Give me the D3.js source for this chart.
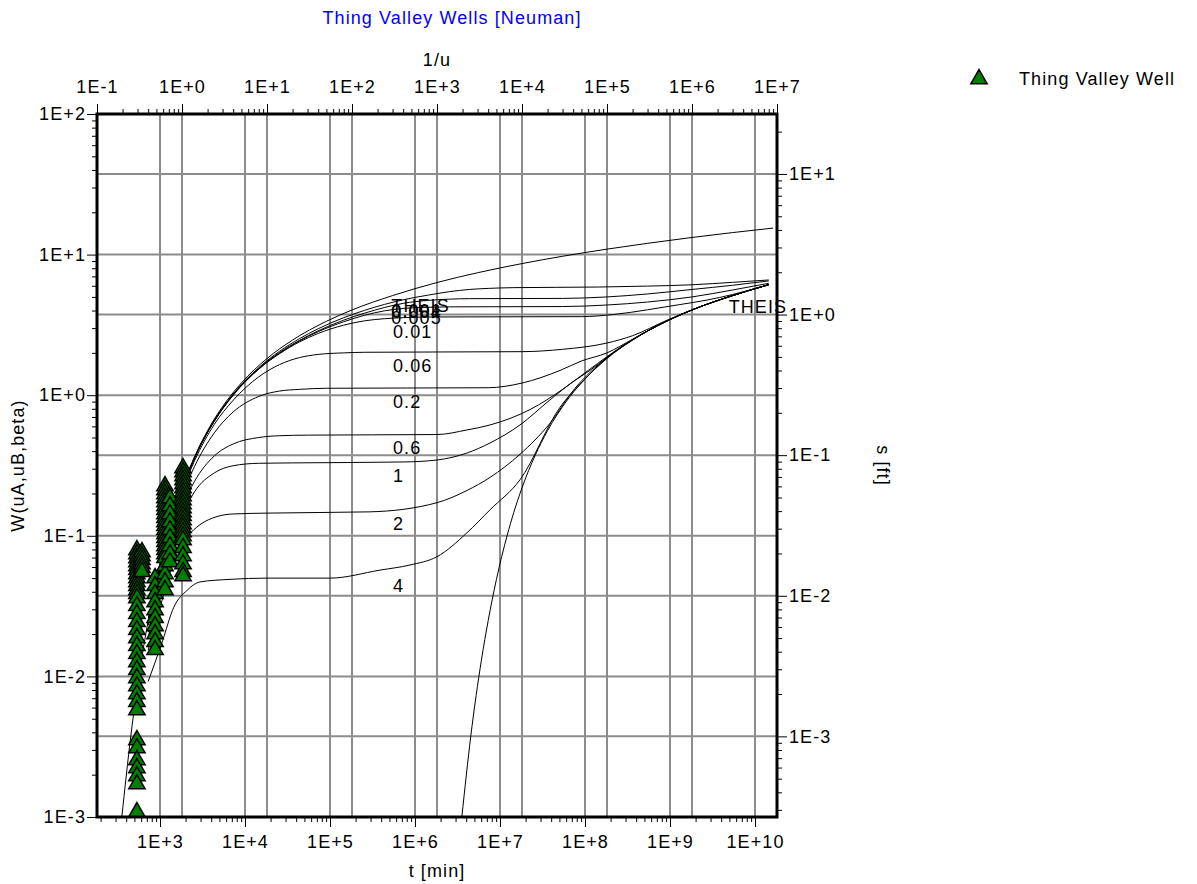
<!DOCTYPE html>
<html><head><meta charset="utf-8">
<script src="https://cdn.jsdelivr.net/npm/d3@7"></script>
<style>
body{margin:0;background:#fff}
svg{display:block}
text{font-family:"Liberation Sans",Arial,Helvetica,sans-serif;font-size:18px;letter-spacing:1.1px}
</style>
</head><body>
<svg id="chart" width="1197" height="884"></svg>
<script>
// ---------------- data ----------------
const chartTitle = "Thing Valley Wells [Neuman]";
const topAxisTitle = "1/u";
const bottomAxisTitle = "t [min]";
const leftAxisTitle = "W(uA,uB,beta)";
const rightAxisTitle = "s [ft]";
const legendLabel = "Thing Valley Well";

const topTickValues = [1e-1,1e0,1e1,1e2,1e3,1e4,1e5,1e6,1e7];
const topTickLabels = ["1E-1","1E+0","1E+1","1E+2","1E+3","1E+4","1E+5","1E+6","1E+7"];
const bottomTickValues = [1e3,1e4,1e5,1e6,1e7,1e8,1e9,1e10];
const bottomTickLabels = ["1E+3","1E+4","1E+5","1E+6","1E+7","1E+8","1E+9","1E+10"];
const leftTickValues = [1e-3,1e-2,1e-1,1e0,1e1,1e2];
const leftTickLabels = ["1E-3","1E-2","1E-1","1E+0","1E+1","1E+2"];
const rightTickValues = [1e-3,1e-2,1e-1,1e0,1e1];
const rightTickLabels = ["1E-3","1E-2","1E-1","1E+0","1E+1"];

// axis extents (1/u, t, W, s)
const invUDomain = [1e-1, 1e7];
const timeDomain = [181.5, 1.815e10];
const wDomain = [1e-3, 1e2];
const sDomain = [2.67e-4, 26.7];

// type curves: [1/u, W(uA,uB,beta)]
const curveTheisA = [[0.196,0.001],[0.25,0.00378],[0.333,0.01305],[0.4,0.0249],[0.5,0.0489],[0.667,0.1],[0.8,0.1464],[1,0.2194],[1.43,0.3738],[2,0.5598],[3.33,0.9057],[5,1.2227],[10,1.8229],[20,2.4679],[50,3.3547],[100,4.0379],[300,5.11],[1000,6.3315],[3000,7.43],[1e4,8.6332],[3e4,9.73],[1e5,10.9357],[3e5,12.03],[1e6,13.2383],[3e6,14.34],[9e6,15.44]];
const curveTheisB = [[1960,0.001],[2500,0.00378],[3330,0.01305],[4000,0.0249],[5000,0.0489],[6670,0.1],[8000,0.1464],[1e4,0.2194],[1.43e4,0.3738],[2e4,0.5598],[3.33e4,0.9057],[5e4,1.2227],[1e5,1.8229],[2e5,2.4679],[5e5,3.3547],[1e6,4.0379],[3e6,5.11],[8e6,6.107]];
const curveBeta0001 = [[0.4,0.0248],[0.8,0.145],[1.4,0.358],[2.4,0.662],[4,1.02],[8,1.57],[14,2.05],[24,2.52],[40,2.97],[80,3.56],[140,4.01],[240,4.42],[400,4.77],[800,5.16],[1400,5.45],[2400,5.65],[4000,5.75],[8000,5.82],[8e4,5.88],[3e5,5.97],[1e6,6.1],[3e6,6.35],[8e6,6.6]];
const curveBeta0004 = [[0.4,0.0248],[0.8,0.144],[1.4,0.357],[2.4,0.658],[4,1.01],[8,1.55],[14,2.01],[24,2.45],[40,2.87],[80,3.42],[140,3.83],[240,4.2],[400,4.5],[800,4.73],[1400,4.82],[2400,4.86],[3e4,4.88],[1e5,5.0],[3e5,5.25],[1e6,5.65],[3e6,6.05],[8e6,6.5]];
const curveBeta0005 = [[0.4,0.0248],[0.8,0.144],[1.4,0.356],[2.4,0.655],[4,1.005],[8,1.54],[14,1.99],[24,2.43],[40,2.83],[80,3.33],[140,3.7],[240,3.98],[400,4.14],[800,4.22],[1400,4.25],[3e4,4.27],[1e5,4.38],[3e5,4.6],[1e6,5.0],[3e6,5.6],[8e6,6.25]];
const curveBeta001 = [[0.4,0.0247],[0.8,0.143],[1.4,0.355],[2.4,0.652],[4,0.999],[8,1.53],[14,1.97],[24,2.39],[40,2.75],[80,3.15],[140,3.38],[240,3.5],[400,3.56],[800,3.6],[5e4,3.62],[1.2e5,3.75],[3e5,4.05],[7e5,4.4],[1.5e6,4.75],[3e6,5.2],[8e6,6.12]];
const curveBeta006 = [[0.4,0.0243],[0.8,0.139],[1.4,0.34],[2.4,0.62],[4,0.92],[8,1.35],[14,1.65],[24,1.85],[40,1.95],[80,2.0],[140,2.02],[1e4,2.04],[3e4,2.12],[1e5,2.35],[2e5,2.65],[5e5,3.4],[1e6,4.05],[3e6,5.11],[8e6,6.11]];
const curveBeta02 = [[0.4,0.023],[0.8,0.131],[1.4,0.31],[2.4,0.54],[4,0.76],[8,0.98],[14,1.07],[24,1.1],[50,1.12],[4000,1.13],[1e4,1.22],[2.8e4,1.5],[5e4,1.75],[1e5,2.0],[2e5,2.5],[5e5,3.37],[1e6,4.04],[3e6,5.11],[8e6,6.11]];
const curveBeta06 = [[0.4,0.0206],[0.8,0.111],[1.4,0.243],[2.4,0.37],[4,0.45],[8,0.5],[14,0.515],[30,0.52],[1000,0.525],[2250,0.566],[4200,0.614],[1.24e4,0.79],[3e4,1.1],[6e4,1.5],[1e5,1.88],[2e5,2.49],[5e5,3.36],[1e6,4.04],[3e6,5.11],[8e6,6.11]];
const curveBeta1 = [[0.4,0.0188],[0.8,0.097],[1.4,0.205],[2.4,0.28],[4,0.315],[8,0.328],[20,0.33],[400,0.335],[1000,0.346],[2250,0.388],[4200,0.457],[9460,0.614],[2.13e4,0.925],[4e4,1.25],[6.3e4,1.5],[1e5,1.86],[2e5,2.48],[5e5,3.36],[1e6,4.04],[3e6,5.11],[8e6,6.11]];
const curveBeta2 = [[0.4,0.0154],[0.6,0.037],[0.8,0.066],[1.15,0.098],[1.63,0.12],[2.58,0.137],[4,0.143],[10,0.145],[160,0.148],[1000,0.172],[2250,0.21],[4200,0.26],[9460,0.38],[2.13e4,0.63],[4.2e4,1.12],[6.3e4,1.45],[1e5,1.85],[2e5,2.48],[5e5,3.36],[1e6,4.04],[3e6,5.11],[8e6,6.11]];
const curveBeta4 = [[0.4,0.0092],[0.58,0.0173],[0.8,0.031],[1.15,0.041],[1.63,0.047],[3.67,0.049],[10,0.05],[55,0.05],[213,0.057],[481,0.062],[1000,0.071],[2250,0.105],[4200,0.153],[9460,0.25],[2.8e4,0.82],[5.5e4,1.3],[1e5,1.84],[2e5,2.47],[5e5,3.355],[1e6,4.04],[3e6,5.11],[8e6,6.11]];

const curveNames = ["THEIS","0.001","0.004","0.005","0.01","0.06","0.2","0.6","1","2","4","THEIS"];
const curveSeries = [curveTheisA,curveBeta0001,curveBeta0004,curveBeta0005,curveBeta001,curveBeta006,curveBeta02,curveBeta06,curveBeta1,curveBeta2,curveBeta4,curveTheisB];
// label anchors in data units [1/u, W]
const curveLabelAnchors = [[290,4.3],[290,3.98],[290,3.93],[290,3.55],[303,2.81],[303,1.61],[303,0.895],[303,0.421],[303,0.266],[303,0.121],[303,0.044],[2.7e6,4.24]];

// observations: time t [min] and drawdown s [ft]
const obsColumns = [
  {t:535, s:[0.02118,0.01984,0.01858,0.0174,0.0163,0.01527,0.0143,0.01339,0.01254,0.01175,0.011,0.01031,0.00965,0.00847,0.00743,0.00652,0.00572,0.00501,0.0044,0.00386,0.00338,0.00297,0.0026,0.00228,0.002,0.00176,0.00154,0.000942,0.000826,0.000679,0.000596,0.000523,0.000458,0.00029]},
  {t:614, s:[0.0205,0.0192,0.018,0.0168,0.0158,0.0148]},
  {t:875, s:[0.01339,0.01175,0.01031,0.00904,0.00793,0.00696,0.0061,0.00535,0.0047,0.00412]},
  {t:1145, s:[0.0604,0.0566,0.053,0.0496,0.0465,0.0435,0.0408,0.0382,0.0358,0.0335,0.0314,0.0294,0.0275,0.0258,0.0242,0.0226,0.0212,0.0198,0.0186,0.0163,0.0143,0.01254,0.011]},
  {t:1311, s:[0.0496,0.0435,0.0382,0.0335,0.0294,0.0258,0.0226,0.0198,0.0174]},
  {t:1866, s:[0.0811,0.076,0.0711,0.0666,0.0624,0.0584,0.0547,0.0513,0.048,0.045,0.0421,0.0394,0.037,0.0346,0.0324,0.0304,0.0284,0.0266,0.0249,0.0219,0.0192,0.0168,0.0148,0.0138]}
];

// ---------------- drawing ----------------
const L = 97, R = 777, T = 114, B = 817;
const svg = d3.select("#chart");
svg.append("rect").attr("width",1197).attr("height",884).attr("fill","#fff");

const xTop = d3.scaleLog().domain(invUDomain).range([L,R]);
const xBot = d3.scaleLog().domain(timeDomain).range([L,R]);
const yL = d3.scaleLog().domain(wDomain).range([B,T]);
const yR = d3.scaleLog().domain(sDomain).range([B,T]);

const isDecade = v => Math.abs(Math.log10(v) - Math.round(Math.log10(v))) < 1e-9;

// grid
const grid = svg.append("g").attr("stroke","#8c8c8c").attr("stroke-width",2);
topTickValues.filter(v=>xTop(v)>L+1 && xTop(v)<R-1).forEach(v=>grid.append("line").attr("x1",xTop(v)).attr("x2",xTop(v)).attr("y1",T).attr("y2",B));
bottomTickValues.filter(v=>xBot(v)>L+1 && xBot(v)<R-1).forEach(v=>grid.append("line").attr("x1",xBot(v)).attr("x2",xBot(v)).attr("y1",T).attr("y2",B));
leftTickValues.filter(v=>yL(v)>T+1 && yL(v)<B-1).forEach(v=>grid.append("line").attr("x1",L).attr("x2",R).attr("y1",yL(v)).attr("y2",yL(v)));
rightTickValues.filter(v=>yR(v)>T+1 && yR(v)<B-1).forEach(v=>grid.append("line").attr("x1",L).attr("x2",R).attr("y1",yR(v)).attr("y2",yR(v)));

// clip
svg.append("clipPath").attr("id","plotclip").append("rect").attr("x",L).attr("y",T).attr("width",R-L).attr("height",B-T);

// curves
const line = d3.line().x(d=>xTop(d[0])).y(d=>yL(d[1])).curve(d3.curveMonotoneX);
const cg = svg.append("g").attr("clip-path","url(#plotclip)");
curveSeries.forEach(s=>{
  cg.append("path").attr("d",line(s)).attr("fill","none").attr("stroke","#000").attr("stroke-width",1);
});
// curve labels
curveNames.forEach((n,i)=>{
  svg.append("text").attr("x",xTop(curveLabelAnchors[i][0])).attr("y",yL(curveLabelAnchors[i][1]))
    .attr("dominant-baseline","central").attr("fill","#000").text(n);
});

// observations
const tri = d3.symbol().type(d3.symbolTriangle).size(115);
const og = svg.append("g");
obsColumns.forEach(col=>{
  col.s.forEach(s=>{
    og.append("path").attr("d",tri()).attr("transform",`translate(${xBot(col.t)},${yR(s)})`)
      .attr("fill","#008000").attr("stroke","#000").attr("stroke-width",1.5);
  });
});

// axes
function styleAxis(g){ g.select(".domain").remove(); g.selectAll(".tick line").attr("stroke","#000").attr("stroke-width",1); g.selectAll("text").attr("fill","#000").style("font-size","18px").attr("font-family",null); }
const minorOf = (sc) => sc.ticks().filter(v=>!isDecade(v));

svg.append("g").attr("transform",`translate(0,${T})`).call(d3.axisTop(xTop).tickValues(minorOf(xTop)).tickSize(5).tickFormat("")).call(styleAxis);
svg.append("g").attr("transform",`translate(0,${T})`).call(d3.axisTop(xTop).tickValues(topTickValues).tickSize(10).tickPadding(11).tickFormat((d,i)=>topTickLabels[i])).call(styleAxis);

svg.append("g").attr("transform",`translate(0,${B})`).call(d3.axisBottom(xBot).tickValues(minorOf(xBot)).tickSize(5).tickFormat("")).call(styleAxis);
svg.append("g").attr("transform",`translate(0,${B})`).call(d3.axisBottom(xBot).tickValues(bottomTickValues).tickSize(10).tickPadding(8).tickFormat((d,i)=>bottomTickLabels[i])).call(styleAxis);

svg.append("g").attr("transform",`translate(${L},0)`).call(d3.axisLeft(yL).tickValues(minorOf(yL)).tickSize(5).tickFormat("")).call(styleAxis);
svg.append("g").attr("transform",`translate(${L},0)`).call(d3.axisLeft(yL).tickValues(leftTickValues).tickSize(10).tickPadding(1).tickFormat((d,i)=>leftTickLabels[i])).call(styleAxis);

svg.append("g").attr("transform",`translate(${R},0)`).call(d3.axisRight(yR).tickValues(minorOf(yR)).tickSize(5).tickFormat("")).call(styleAxis);
svg.append("g").attr("transform",`translate(${R},0)`).call(d3.axisRight(yR).tickValues(rightTickValues).tickSize(10).tickPadding(2).tickFormat((d,i)=>rightTickLabels[i])).call(styleAxis);

// border
svg.append("rect").attr("x",L).attr("y",T).attr("width",R-L).attr("height",B-T).attr("fill","none").attr("stroke","#000").attr("stroke-width",3);

// titles
svg.append("text").attr("x",452).attr("y",18).attr("text-anchor","middle").attr("dominant-baseline","central").attr("fill","#0000ff").text(chartTitle);
svg.append("text").attr("x",(L+R)/2).attr("y",60).attr("text-anchor","middle").attr("dominant-baseline","central").text(topAxisTitle);
svg.append("text").attr("x",(L+R)/2).attr("y",871).attr("text-anchor","middle").attr("dominant-baseline","central").text(bottomAxisTitle);
svg.append("text").attr("transform",`translate(18,${(T+B)/2}) rotate(-90)`).attr("text-anchor","middle").attr("dominant-baseline","central").text(leftAxisTitle);
svg.append("text").attr("transform",`translate(883,${(T+B)/2}) rotate(90)`).attr("text-anchor","middle").attr("dominant-baseline","central").text(rightAxisTitle);

// legend
svg.append("path").attr("d",tri()).attr("transform","translate(979,79)").attr("fill","#008000").attr("stroke","#000").attr("stroke-width",1.5);
svg.append("text").attr("x",1019).attr("y",79).attr("dominant-baseline","central").text(legendLabel);
</script>
</body></html>
